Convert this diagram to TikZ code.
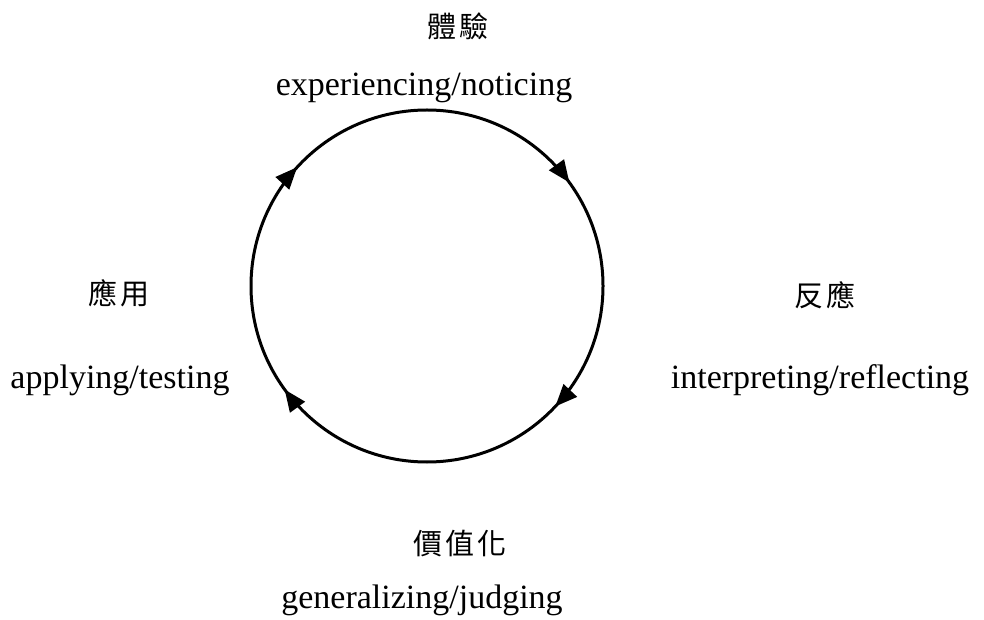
\documentclass[tikz,border=0pt]{standalone}
\usepackage{fontspec}
\setmainfont{Liberation Serif}
\newfontfamily\cjkfont[LetterSpace=12]{Noto Sans CJK TC}
\usetikzlibrary{arrows.meta,decorations.markings}

\begin{document}
\begin{tikzpicture}[x=1pt,y=1pt,
    zh/.style={font=\cjkfont\fontsize{29}{34}\selectfont, inner sep=0pt},
    en/.style={font=\fontsize{34}{40}\selectfont, inner sep=0pt, anchor=base},
    cycletip/.style={postaction={decorate}, decoration={markings,
        mark=at position 0.150 with {\arrow{Triangle[length=22pt,width=18pt]}},
        mark=at position 0.370 with {\arrow{Triangle[length=22pt,width=18pt]}},
        mark=at position 0.650 with {\arrow{Triangle[length=22pt,width=18pt]}},
        mark=at position 0.868 with {\arrow{Triangle[length=22pt,width=18pt]}}}}]
    \useasboundingbox (0,0) rectangle (984,619);

    % labels
    \node[zh] (expzh) at (458,593) {體驗};
    \node[en] (expen) at (424,523) {experiencing/noticing};
    \node[zh] (refzh) at (825,324) {反應};
    \node[en] (refen) at (820,231) {interpreting/reflecting};
    \node[zh] (genzh) at (460,75) {價值化};
    \node[en] (genen) at (422,11) {generalizing/judging};
    \node[zh] (appzh) at (119,326) {應用};
    \node[en] (appen) at (120,231) {applying/testing};

    % the cycle
    \coordinate (cyc) at (427,333);
    \draw[line width=3pt, cycletip] (cyc) ++(90:176)
        arc[start angle=90, end angle=-270, radius=176];
\end{tikzpicture}
\end{document}
